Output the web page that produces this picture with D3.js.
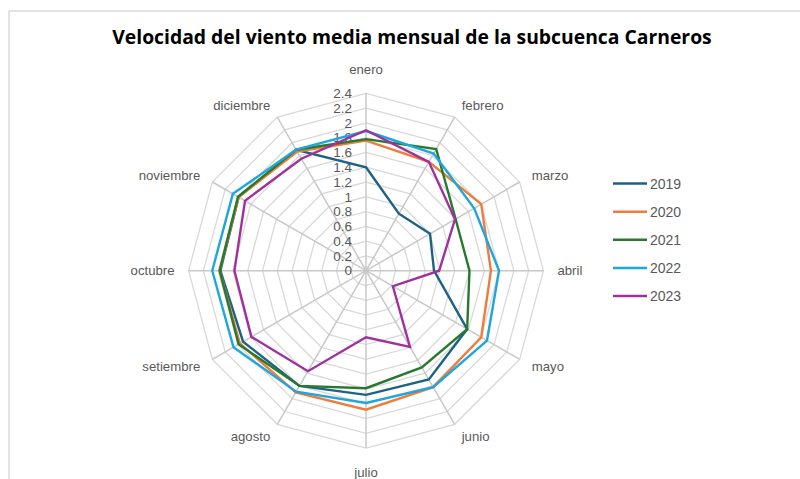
<!DOCTYPE html>
<html>
<head>
<meta charset="utf-8">
<script src="https://cdn.jsdelivr.net/npm/d3@7"></script>
<style>
  body { margin: 0; background: #fff; }
  svg { display: block; }
</style>
</head>
<body>
<svg id="chart" width="800" height="479"></svg>
<script>
// data
const months = ["enero", "febrero", "marzo", "abril", "mayo", "junio",
  "julio", "agosto", "setiembre", "octubre", "noviembre", "diciembre"];
const years = ["2019", "2020", "2021", "2022", "2023"];
const v2019 = [1.40, 0.89, 1.00, 0.92, 1.58, 1.70, 1.68, 1.80, 1.92, 1.97, 1.99, 1.89];
const v2020 = [1.76, 1.70, 1.80, 1.69, 1.80, 1.82, 1.88, 1.90, 1.97, 1.98, 1.99, 1.86];
const v2021 = [1.78, 1.90, 1.40, 1.40, 1.58, 1.51, 1.59, 1.80, 1.99, 1.98, 2.00, 1.89];
const v2022 = [1.89, 1.83, 1.69, 1.80, 1.89, 1.82, 1.79, 1.89, 2.07, 2.08, 2.08, 1.89];
const v2023 = [1.90, 1.70, 1.39, 0.99, 0.42, 1.19, 0.90, 1.57, 1.79, 1.78, 1.89, 1.75];
const ticks = [0, 0.2, 0.4, 0.6, 0.8, 1, 1.2, 1.4, 1.6, 1.8, 2, 2.2, 2.4];

const series = [v2019, v2020, v2021, v2022, v2023];
const colors = ["#1d6286", "#ee7c3c", "#267a2d", "#1ea6dd", "#a1309f"];

const svg = d3.select("#chart");
const cx = 366, cy = 270.7, R = 177.4;

// frame edges visible in the picture
svg.append("line").attr("x1", 9).attr("y1", 11).attr("x2", 800).attr("y2", 11)
  .attr("stroke", "#d9d9d9").attr("stroke-width", 1.5);
svg.append("line").attr("x1", 9).attr("y1", 11).attr("x2", 9).attr("y2", 479)
  .attr("stroke", "#d9d9d9").attr("stroke-width", 1.5);

const r = d3.scaleLinear().domain([0, 2.4]).range([0, R]);
const ang = d3.scalePoint().domain(months).range([0, 2 * Math.PI * 11 / 12]);

function pt(m, val) {
  const a = ang(m);
  return [cx + r(val) * Math.sin(a), cy - r(val) * Math.cos(a)];
}

const g = svg.append("g");

// rings
ticks.slice(1).forEach(t => {
  g.append("path")
    .attr("d", d3.line()(months.map(m => pt(m, t))) + "Z")
    .attr("fill", "none")
    .attr("stroke", "#d9d9d9")
    .attr("stroke-width", 1.3);
});

// spokes
months.forEach(m => {
  const p = pt(m, 2.4);
  g.append("line")
    .attr("x1", cx).attr("y1", cy)
    .attr("x2", p[0]).attr("y2", p[1])
    .attr("stroke", "#c8c8c8")
    .attr("stroke-width", 1.5);
});

// tick labels
ticks.forEach(t => {
  g.append("text")
    .attr("x", cx - 14)
    .attr("y", cy - r(t))
    .attr("dy", "0.35em")
    .attr("text-anchor", "end")
    .style("font-family", "Liberation Sans, Arial, sans-serif")
    .style("font-size", "13.5px")
    .style("fill", "#595959")
    .text(t);
});

// category labels
months.forEach(m => {
  const a = ang(m);
  const s = Math.sin(a), c = Math.cos(a);
  const rr = R + 14;
  let x = cx + rr * s, y = cy - rr * c;
  let anchor = "middle";
  if (s > 0.1) anchor = "start";
  if (s < -0.1) anchor = "end";
  if (Math.abs(s) < 0.1) y += (c > 0 ? -10 : 10);
  g.append("text")
    .attr("x", x).attr("y", y)
    .attr("dy", "0.35em")
    .attr("text-anchor", anchor)
    .style("font-family", "Liberation Sans, Arial, sans-serif")
    .style("font-size", "13.2px")
    .style("fill", "#595959")
    .text(m);
});

// series
const line = d3.line().curve(d3.curveLinearClosed);
series.forEach((vals, i) => {
  g.append("path")
    .attr("d", line(months.map((m, j) => pt(m, vals[j]))))
    .attr("fill", "none")
    .attr("stroke", colors[i])
    .attr("stroke-width", 2.4)
    .attr("stroke-linejoin", "miter");
});

// legend
const ly = d3.scalePoint().domain(years).range([183.5, 296]);
years.forEach((y, i) => {
  svg.append("line")
    .attr("x1", 613).attr("x2", 647)
    .attr("y1", ly(y)).attr("y2", ly(y))
    .attr("stroke", colors[i]).attr("stroke-width", 2.5);
  svg.append("text")
    .attr("x", 650).attr("y", ly(y))
    .attr("dy", "0.36em")
    .style("font-family", "Liberation Sans, Arial, sans-serif")
    .style("font-size", "14px")
    .style("fill", "#595959")
    .text(y);
});

// title
const title = svg.append("text")
  .attr("x", 412).attr("y", 44)
  .attr("text-anchor", "middle")
  .style("font-family", "Open Sans, sans-serif")
  .style("font-weight", "bold")
  .style("font-size", "22px")
  .style("fill", "#000")
  .text("Velocidad del viento media mensual de la subcuenca Carneros");
const w = title.node().getComputedTextLength();
title.style("font-size", (22 * 600 / w) + "px");
</script>
</body>
</html>
